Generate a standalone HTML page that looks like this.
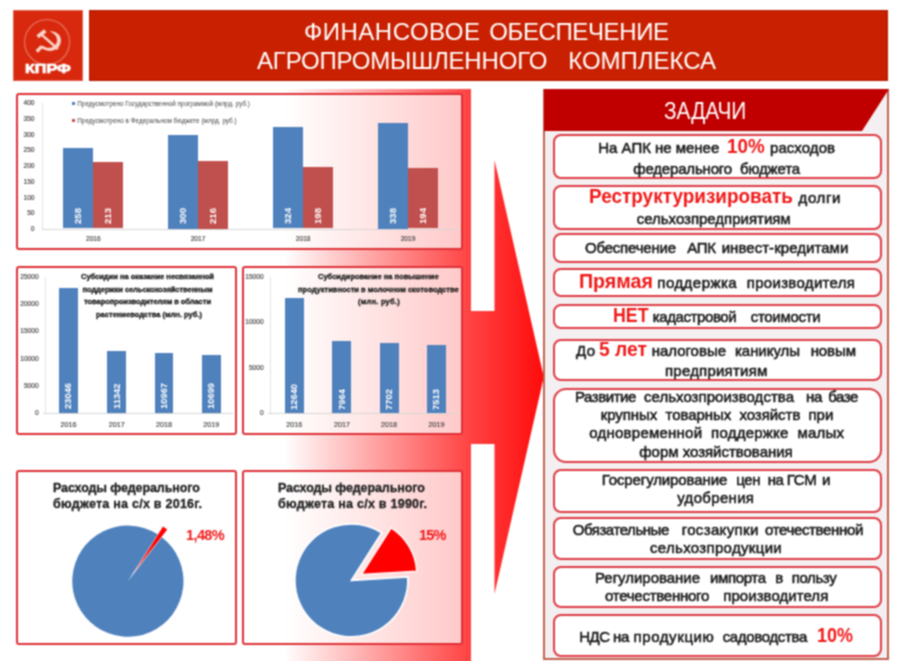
<!DOCTYPE html>
<html lang="ru"><head><meta charset="utf-8"><title>Финансовое обеспечение АПК</title>
<style>
*{box-sizing:border-box}
html,body{margin:0;padding:0}
body{width:900px;height:661px;position:relative;overflow:hidden;background:#fff;font-family:"Liberation Sans",sans-serif}
.abs{position:absolute}
#logo{position:absolute;left:13px;top:10px;width:69.5px;height:71px;background:#d8290e;border:1px solid #e0604a}
#title{position:absolute;left:88.6px;top:9.5px;width:799.6px;height:71.5px;background:#c82000;border:1px solid #ae1c02}
#grad{position:absolute;left:0;top:89px}
.pn{position:absolute;border:2.6px solid #de3036;border-radius:3px;background:rgba(255,255,255,0.70)}
#rp{position:absolute;left:543.3px;top:89px;width:346.2px;height:571.4px;background:#f4f0f1;border:2px solid #c2604f}
#rh{position:absolute;left:544px;top:89px}
.it{position:absolute;left:552.5px;width:329.5px;background:#fff;border:2.3px solid #de3a44}
.s{position:absolute;white-space:pre;display:block}
.r{-webkit-text-stroke:0.55px #1a1a1a}
.k{-webkit-text-stroke:0.7px #fff}
.c{-webkit-text-stroke:0.3px #111}
.p{-webkit-text-stroke:0.3px #222}
.r{font-size:15px;font-weight:400;color:#1a1a1a}
.b{font-size:20px;font-weight:700;color:#f01818}
.t{font-size:24px;font-weight:400;color:#fff}
.h{font-size:24px;font-weight:400;color:#fff}
.k{font-size:13px;font-weight:700;color:#fff}
.c{font-size:7.5px;font-weight:700;color:#222}
.p{font-size:12.5px;font-weight:700;color:#222}
.q{font-size:14.5px;font-weight:700;color:#f01818}
.l{font-size:6.3px;font-weight:400;color:#444}
.bar{position:absolute}
.ax{position:absolute;height:1px;background:#d6d6d6}
.ay{position:absolute;width:1px;background:#e2e2e2}
.sm{position:absolute;white-space:nowrap;line-height:1;-webkit-text-stroke:0.15px #444}
.vl{position:absolute;white-space:nowrap;line-height:1;color:#fff;font-weight:700;transform-origin:0 0;transform:rotate(-90deg) translate(0,-50%)}
.lg{position:absolute;width:3.2px;height:3.2px}
#w{position:absolute;left:0;top:0;width:900px;height:700px;background:#fff;filter:url(#soft)}
</style></head><body><svg width="0" height="0" style="position:absolute"><defs><filter id="soft" x="0" y="0" width="100%" height="100%" color-interpolation-filters="sRGB"><feConvolveMatrix order="3" kernelMatrix="1 2 1 2 4 2 1 2 1" divisor="16" edgeMode="duplicate" preserveAlpha="true"/></filter></defs></svg><div id="w">
<svg id="grad" width="560" height="600" viewBox="0 89 560 600">
<defs><linearGradient id="g" gradientUnits="userSpaceOnUse" x1="0" y1="0" x2="545" y2="0">
<stop offset="0" stop-color="#ffffff"/><stop offset="0.521" stop-color="#ffffff"/><stop offset="0.859" stop-color="#ff4444"/><stop offset="1" stop-color="#ff0a0a"/></linearGradient></defs>
<path d="M0,89 H471 V311 H494.5 V160 L543.8,377 L494.5,594 V444 H471 V689 H-10 V89 Z" fill="url(#g)"/>
</svg>
<div id="logo"></div>
<svg class="abs" style="left:13px;top:10px" width="70" height="71" viewBox="0 0 70 71">
<circle cx="34.1" cy="32.1" r="22.5" fill="none" stroke="#ee8a78" stroke-width="1.3" opacity="0.7"/>
<g fill="#ffe0d6" stroke="none" opacity="0.92" transform="translate(34.5 31.5) scale(0.86) translate(-34.5 -31.5)">
<path d="M37.0,19.6 C42.5,19.6 47.2,21.6 49.3,26.2 C51.2,30.6 49.8,36 45.8,39.4 C41.8,42.8 35.6,43.2 31.0,41.2 C29.4,40.5 28.0,39.5 27.0,38.4 L28.9,36.2 C31.6,38.6 35.2,39.4 38.6,38.6 C42.6,37.6 45.4,34.4 45.6,30.4 C45.8,26.2 43.0,22.2 37.0,19.6 Z"/>
<path d="M26.6,36.0 L29.4,38.6 L23.4,44.6 L20.6,41.8 Z"/>
<path d="M26.6,24.6 L28.6,22.4 L47.6,39.2 L45.6,41.4 Z"/>
<path d="M21.6,24.2 L30.6,17.2 L33.4,20.8 L24.4,27.8 Z"/>
</g>
</svg>
<div id="title"></div>
<div class="pn" style="left:16px;top:92.5px;width:446.5px;height:157.5px"></div>
<div class="pn" style="left:16px;top:266.3px;width:220.5px;height:168.5px"></div>
<div class="pn" style="left:242px;top:266.3px;width:220.5px;height:168.5px"></div>
<div class="pn" style="left:16px;top:469.5px;width:220.5px;height:175.5px"></div>
<div class="pn" style="left:242px;top:469.5px;width:220.5px;height:175.5px"></div>
<div class="sm" style="left:34.5px;top:229.0px;transform:translate(-100%,-50%);font-size:6.6px;color:#444">0</div>
<div class="sm" style="left:34.5px;top:213.2px;transform:translate(-100%,-50%);font-size:6.6px;color:#444">50</div>
<div class="sm" style="left:34.5px;top:197.5px;transform:translate(-100%,-50%);font-size:6.6px;color:#444">100</div>
<div class="sm" style="left:34.5px;top:181.8px;transform:translate(-100%,-50%);font-size:6.6px;color:#444">150</div>
<div class="sm" style="left:34.5px;top:166.0px;transform:translate(-100%,-50%);font-size:6.6px;color:#444">200</div>
<div class="sm" style="left:34.5px;top:150.2px;transform:translate(-100%,-50%);font-size:6.6px;color:#444">250</div>
<div class="sm" style="left:34.5px;top:134.5px;transform:translate(-100%,-50%);font-size:6.6px;color:#444">300</div>
<div class="sm" style="left:34.5px;top:118.8px;transform:translate(-100%,-50%);font-size:6.6px;color:#444">350</div>
<div class="sm" style="left:34.5px;top:103.0px;transform:translate(-100%,-50%);font-size:6.6px;color:#444">400</div>
<div class="ax" style="left:41.5px;top:228.5px;width:417px"></div>
<div class="bar" style="left:63.3px;top:147.7px;width:30.0px;height:80.8px;background:#4f81bd"></div>
<div class="bar" style="left:93.3px;top:161.9px;width:30.0px;height:66.6px;background:#c0504d"></div>
<div class="vl" style="left:78.3px;top:224.1px;font-size:9.6px">258</div>
<div class="vl" style="left:108.3px;top:224.1px;font-size:9.6px">213</div>
<div class="bar" style="left:168.0px;top:134.5px;width:30.0px;height:94.0px;background:#4f81bd"></div>
<div class="bar" style="left:198.0px;top:161.0px;width:30.0px;height:67.5px;background:#c0504d"></div>
<div class="vl" style="left:183.0px;top:224.1px;font-size:9.6px">300</div>
<div class="vl" style="left:213.0px;top:224.1px;font-size:9.6px">216</div>
<div class="bar" style="left:273.2px;top:126.9px;width:30.0px;height:101.6px;background:#4f81bd"></div>
<div class="bar" style="left:303.2px;top:166.6px;width:30.0px;height:61.9px;background:#c0504d"></div>
<div class="vl" style="left:288.2px;top:224.1px;font-size:9.6px">324</div>
<div class="vl" style="left:318.2px;top:224.1px;font-size:9.6px">198</div>
<div class="bar" style="left:378.0px;top:122.5px;width:30.0px;height:106.0px;background:#4f81bd"></div>
<div class="bar" style="left:408.0px;top:167.9px;width:30.0px;height:60.6px;background:#c0504d"></div>
<div class="vl" style="left:393.0px;top:224.1px;font-size:9.6px">338</div>
<div class="vl" style="left:423.0px;top:224.1px;font-size:9.6px">194</div>
<div class="sm" style="left:93.3px;top:239.3px;transform:translate(-50%,-50%);font-size:6.6px;color:#444">2016</div>
<div class="sm" style="left:198.0px;top:239.3px;transform:translate(-50%,-50%);font-size:6.6px;color:#444">2017</div>
<div class="sm" style="left:303.2px;top:239.3px;transform:translate(-50%,-50%);font-size:6.6px;color:#444">2018</div>
<div class="sm" style="left:408.0px;top:239.3px;transform:translate(-50%,-50%);font-size:6.6px;color:#444">2019</div>
<div class="lg" style="left:71.5px;top:101.8px;background:#4f81bd"></div>
<div class="lg" style="left:71.5px;top:119.3px;background:#c0504d"></div>
<div class="ay" style="left:41.5px;top:103px;height:126px"></div>
<div class="ay" style="left:44.5px;top:277px;height:136.5px"></div>
<div class="ay" style="left:270px;top:277px;height:136.5px"></div>
<div class="sm" style="left:38.6px;top:413.0px;transform:translate(-100%,-50%);font-size:6.6px;color:#444">0</div>
<div class="sm" style="left:38.6px;top:385.8px;transform:translate(-100%,-50%);font-size:6.6px;color:#444">5000</div>
<div class="sm" style="left:38.6px;top:358.6px;transform:translate(-100%,-50%);font-size:6.6px;color:#444">10000</div>
<div class="sm" style="left:38.6px;top:331.4px;transform:translate(-100%,-50%);font-size:6.6px;color:#444">15000</div>
<div class="sm" style="left:38.6px;top:304.2px;transform:translate(-100%,-50%);font-size:6.6px;color:#444">20000</div>
<div class="sm" style="left:38.6px;top:277.0px;transform:translate(-100%,-50%);font-size:6.6px;color:#444">25000</div>
<div class="ax" style="left:42.7px;top:413.0px;width:190px"></div>
<div class="bar" style="left:59.0px;top:287.6px;width:18.8px;height:125.4px;background:#4f81bd"></div>
<div class="vl" style="left:68.4px;top:409.2px;font-size:9.4px">23046</div>
<div class="bar" style="left:107.3px;top:351.3px;width:18.8px;height:61.7px;background:#4f81bd"></div>
<div class="vl" style="left:116.7px;top:409.2px;font-size:9.4px">11342</div>
<div class="bar" style="left:154.5px;top:353.3px;width:18.8px;height:59.7px;background:#4f81bd"></div>
<div class="vl" style="left:163.9px;top:409.2px;font-size:9.4px">10967</div>
<div class="bar" style="left:201.8px;top:354.8px;width:18.8px;height:58.2px;background:#4f81bd"></div>
<div class="vl" style="left:211.2px;top:409.2px;font-size:9.4px">10699</div>
<div class="sm" style="left:68.4px;top:425.2px;transform:translate(-50%,-50%);font-size:7.2px;color:#444">2016</div>
<div class="sm" style="left:116.7px;top:425.2px;transform:translate(-50%,-50%);font-size:7.2px;color:#444">2017</div>
<div class="sm" style="left:163.9px;top:425.2px;transform:translate(-50%,-50%);font-size:7.2px;color:#444">2018</div>
<div class="sm" style="left:211.2px;top:425.2px;transform:translate(-50%,-50%);font-size:7.2px;color:#444">2019</div>
<div class="sm" style="left:263.6px;top:413.4px;transform:translate(-100%,-50%);font-size:6.6px;color:#444">0</div>
<div class="sm" style="left:263.6px;top:367.9px;transform:translate(-100%,-50%);font-size:6.6px;color:#444">5000</div>
<div class="sm" style="left:263.6px;top:322.4px;transform:translate(-100%,-50%);font-size:6.6px;color:#444">10000</div>
<div class="sm" style="left:263.6px;top:276.9px;transform:translate(-100%,-50%);font-size:6.6px;color:#444">15000</div>
<div class="ax" style="left:268.2px;top:413.4px;width:190px"></div>
<div class="bar" style="left:284.8px;top:298.4px;width:19.1px;height:115.0px;background:#4f81bd"></div>
<div class="vl" style="left:294.3px;top:409.6px;font-size:9.4px">12640</div>
<div class="bar" style="left:332.4px;top:340.9px;width:19.1px;height:72.5px;background:#4f81bd"></div>
<div class="vl" style="left:341.9px;top:409.6px;font-size:9.4px">7964</div>
<div class="bar" style="left:379.6px;top:343.3px;width:19.1px;height:70.1px;background:#4f81bd"></div>
<div class="vl" style="left:389.1px;top:409.6px;font-size:9.4px">7702</div>
<div class="bar" style="left:426.9px;top:345.0px;width:19.1px;height:68.4px;background:#4f81bd"></div>
<div class="vl" style="left:436.4px;top:409.6px;font-size:9.4px">7513</div>
<div class="sm" style="left:294.3px;top:425.2px;transform:translate(-50%,-50%);font-size:7.2px;color:#444">2016</div>
<div class="sm" style="left:341.9px;top:425.2px;transform:translate(-50%,-50%);font-size:7.2px;color:#444">2017</div>
<div class="sm" style="left:389.1px;top:425.2px;transform:translate(-50%,-50%);font-size:7.2px;color:#444">2018</div>
<div class="sm" style="left:436.4px;top:425.2px;transform:translate(-50%,-50%);font-size:7.2px;color:#444">2019</div>
<svg class="abs" style="left:0;top:460px" width="470" height="201" viewBox="0 460 470 201">
<defs><linearGradient id="sg" gradientUnits="userSpaceOnUse" x1="133" y1="573" x2="165" y2="527">
<stop offset="0" stop-color="#f08080"/><stop offset="0.35" stop-color="#f03030"/><stop offset="0.7" stop-color="#ff0000"/></linearGradient></defs>
<path d="M127.90,581.20 L161.85,537.17 A55.60,55.60 0 1 1 157.61,534.20 Z" fill="#4f81bd"/>
<path d="M133.29,573.50 L163.00,526.50 A55.60,55.60 0 0 1 167.23,529.46 Z" fill="url(#sg)"/>
<path d="M351.40,580.40 L407.79,576.95 A56.50,56.50 0 1 1 381.76,532.75 Z" fill="#4f81bd" stroke="#fff" stroke-width="1.6"/>
<path d="M361.39,574.51 L391.16,527.79 A55.40,55.40 0 0 1 416.69,571.13 Z" fill="#ff0000" stroke="#fff" stroke-width="1.4"/>
</svg>
<div id="rp"></div>
<svg id="rh" width="346" height="43" viewBox="0 0 346 43"><path d="M0,0 H345 L318,42 H0 Z" fill="#c00000"/></svg>
<div class="it" style="top:134.4px;height:44.8px;border-radius:8px"></div>
<div class="it" style="top:185.2px;height:44.8px;border-radius:8px"></div>
<div class="it" style="top:233.2px;height:29.4px;border-radius:8px"></div>
<div class="it" style="top:268.2px;height:29.3px;border-radius:8px"></div>
<div class="it" style="top:304.3px;height:24.9px;border-radius:8px"></div>
<div class="it" style="top:338.8px;height:42.4px;border-radius:8px"></div>
<div class="it" style="top:388.2px;height:75.3px;border-radius:13px"></div>
<div class="it" style="top:468.5px;height:44.0px;border-radius:8px"></div>
<div class="it" style="top:516.8px;height:43.7px;border-radius:8px"></div>
<div class="it" style="top:565.6px;height:42.6px;border-radius:8px"></div>
<div class="it" style="top:613.6px;height:43.1px;border-radius:8px"></div>
<span id="s0" class="s r" style="left:598.30px;top:139.30px;line-height:17px;letter-spacing:-0.021px;">На АПК не менее</span>
<span id="s1" class="s b" style="left:726.70px;top:135.30px;line-height:22px;letter-spacing:0.000px;transform-origin:0 50%;transform:scaleX(0.9393);">10%</span>
<span id="s2" class="s r" style="left:770.00px;top:139.30px;line-height:17px;letter-spacing:0.058px;">расходов</span>
<span id="s3" class="s r" style="left:633.30px;top:159.60px;line-height:17px;letter-spacing:-0.182px;">федерального&nbsp; бюджета</span>
<span id="s4" class="s b" style="left:589.30px;top:184.70px;line-height:22px;letter-spacing:0.000px;transform-origin:0 50%;transform:scaleX(0.9475);">Реструктуризировать</span>
<span id="s5" class="s r" style="left:798.61px;top:188.70px;line-height:17px;letter-spacing:0.600px;">долги</span>
<span id="s6" class="s r" style="left:636.70px;top:209.80px;line-height:17px;letter-spacing:-0.010px;">сельхозпредприятиям</span>
<span id="s7" class="s r" style="left:585.00px;top:239.30px;line-height:17px;letter-spacing:-0.206px;">Обеспечение</span>
<span id="s8" class="s r" style="left:687.30px;top:239.30px;line-height:17px;letter-spacing:-0.330px;">АПК</span>
<span id="s9" class="s r" style="left:721.70px;top:239.30px;line-height:17px;letter-spacing:0.042px;">инвест-кредитами</span>
<span id="s10" class="s b" style="left:579.30px;top:270.30px;line-height:22px;letter-spacing:0.000px;transform-origin:0 50%;transform:scaleX(0.9824);">Прямая</span>
<span id="s11" class="s r" style="left:657.30px;top:274.30px;line-height:17px;letter-spacing:0.476px;">поддержка</span>
<span id="s12" class="s r" style="left:746.70px;top:274.30px;line-height:17px;letter-spacing:0.322px;">производителя</span>
<span id="s13" class="s b" style="left:612.70px;top:303.70px;line-height:22px;letter-spacing:0.000px;transform-origin:0 50%;transform:scaleX(0.8900);">НЕТ</span>
<span id="s14" class="s r" style="left:652.70px;top:307.70px;line-height:17px;letter-spacing:-0.391px;">кадастровой</span>
<span id="s15" class="s r" style="left:750.70px;top:307.70px;line-height:17px;letter-spacing:-0.291px;">стоимости</span>
<span id="s16" class="s r" style="left:576.00px;top:342.00px;line-height:17px;letter-spacing:0.328px;">До</span>
<span id="s17" class="s b" style="left:599.30px;top:338.00px;line-height:22px;letter-spacing:0.000px;transform-origin:0 50%;transform:scaleX(0.9642);">5 лет</span>
<span id="s18" class="s r" style="left:651.70px;top:342.00px;line-height:17px;letter-spacing:-0.021px;">налоговые</span>
<span id="s19" class="s r" style="left:735.00px;top:342.00px;line-height:17px;letter-spacing:-0.049px;">каникулы</span>
<span id="s20" class="s r" style="left:810.70px;top:342.00px;line-height:17px;letter-spacing:-0.101px;">новым</span>
<span id="s21" class="s r" style="left:665.00px;top:362.00px;line-height:17px;letter-spacing:0.219px;">предприятиям</span>
<span id="s22" class="s r" style="left:575.00px;top:387.70px;line-height:17px;letter-spacing:-0.443px;">Развитие</span>
<span id="s23" class="s r" style="left:644.00px;top:387.70px;line-height:17px;letter-spacing:0.031px;">сельхозпроизводства</span>
<span id="s24" class="s r" style="left:806.10px;top:387.70px;line-height:17px;letter-spacing:-0.450px;">на</span>
<span id="s25" class="s r" style="left:828.23px;top:387.70px;line-height:17px;letter-spacing:-0.450px;">базе</span>
<span id="s26" class="s r" style="left:600.70px;top:406.20px;line-height:17px;letter-spacing:-0.048px;">крупных&nbsp; товарных&nbsp; хозяйств&nbsp; при</span>
<span id="s27" class="s r" style="left:589.30px;top:424.30px;line-height:17px;letter-spacing:0.231px;">одновременной&nbsp; поддержке&nbsp; малых</span>
<span id="s28" class="s r" style="left:639.30px;top:442.70px;line-height:17px;letter-spacing:-0.025px;">форм хозяйствования</span>
<span id="s29" class="s r" style="left:601.70px;top:470.90px;line-height:17px;letter-spacing:-0.111px;">Госрегулирование</span>
<span id="s30" class="s r" style="left:736.27px;top:470.90px;line-height:17px;letter-spacing:-0.450px;">цен</span>
<span id="s31" class="s r" style="left:767.70px;top:470.90px;line-height:17px;letter-spacing:-0.450px;">на</span>
<span id="s32" class="s r" style="left:786.70px;top:470.90px;line-height:17px;letter-spacing:-0.305px;">ГСМ</span>
<span id="s33" class="s r" style="left:822.10px;top:470.90px;line-height:17px;letter-spacing:0.000px;">и</span>
<span id="s34" class="s r" style="left:677.30px;top:489.20px;line-height:17px;letter-spacing:0.316px;">удобрения</span>
<span id="s35" class="s r" style="left:572.70px;top:520.90px;line-height:17px;letter-spacing:-0.443px;">Обязательные</span>
<span id="s36" class="s r" style="left:681.70px;top:520.90px;line-height:17px;letter-spacing:0.344px;">госзакупки</span>
<span id="s37" class="s r" style="left:765.00px;top:520.90px;line-height:17px;letter-spacing:-0.353px;">отечественной</span>
<span id="s38" class="s r" style="left:650.00px;top:539.30px;line-height:17px;letter-spacing:0.318px;">сельхозпродукции</span>
<span id="s39" class="s r" style="left:595.00px;top:568.80px;line-height:17px;letter-spacing:-0.025px;">Регулирование</span>
<span id="s40" class="s r" style="left:710.00px;top:568.80px;line-height:17px;letter-spacing:-0.370px;">импорта</span>
<span id="s41" class="s r" style="left:775.37px;top:568.80px;line-height:17px;letter-spacing:0.000px;">в</span>
<span id="s42" class="s r" style="left:791.70px;top:568.80px;line-height:17px;letter-spacing:-0.384px;">пользу</span>
<span id="s43" class="s r" style="left:605.00px;top:587.20px;line-height:17px;letter-spacing:-0.256px;">отечественного</span>
<span id="s44" class="s r" style="left:723.30px;top:587.20px;line-height:17px;letter-spacing:0.047px;">производителя</span>
<span id="s45" class="s r" style="left:579.19px;top:627.80px;line-height:17px;letter-spacing:-0.450px;">НДС</span>
<span id="s46" class="s r" style="left:613.05px;top:627.80px;line-height:17px;letter-spacing:-0.450px;">на</span>
<span id="s47" class="s r" style="left:633.49px;top:627.80px;line-height:17px;letter-spacing:0.600px;">продукцию</span>
<span id="s48" class="s r" style="left:722.70px;top:627.80px;line-height:17px;letter-spacing:-0.342px;">садоводства</span>
<span id="s49" class="s b" style="left:817.30px;top:623.90px;line-height:22px;letter-spacing:0.000px;transform-origin:0 50%;transform:scaleX(0.8993);">10%</span>
<span id="s50" class="s t" style="left:304.00px;top:17.70px;line-height:27px;letter-spacing:0.497px;">ФИНАНСОВОЕ</span>
<span id="s51" class="s t" style="left:489.30px;top:17.70px;line-height:27px;letter-spacing:-0.391px;">ОБЕСПЕЧЕНИЕ</span>
<span id="s52" class="s t" style="left:257.00px;top:46.70px;line-height:27px;letter-spacing:-0.181px;">АГРОПРОМЫШЛЕННОГО</span>
<span id="s53" class="s t" style="left:568.30px;top:46.70px;line-height:27px;letter-spacing:-0.026px;">КОМПЛЕКСА</span>
<span id="s54" class="s h" style="left:664.00px;top:96.80px;line-height:27px;letter-spacing:0.000px;transform-origin:0 50%;transform:scaleX(0.8669);">ЗАДАЧИ</span>
<span id="s55" class="s k" style="left:25.30px;top:61.20px;line-height:15px;letter-spacing:0.000px;transform-origin:0 50%;transform:scaleX(1.2420);">КПРФ</span>
<span id="s56" class="s c" style="left:81.00px;top:272.00px;line-height:9px;letter-spacing:-0.009px;">Субсидии на оказание несвязанной</span>
<span id="s57" class="s c" style="left:82.50px;top:284.50px;line-height:9px;letter-spacing:-0.056px;">поддержки сельскохозяйственным</span>
<span id="s58" class="s c" style="left:84.00px;top:297.00px;line-height:9px;letter-spacing:-0.039px;">товаропроизводителям в области</span>
<span id="s59" class="s c" style="left:96.00px;top:309.50px;line-height:9px;letter-spacing:0.010px;">растениеводства (млн. руб.)</span>
<span id="s60" class="s c" style="left:318.00px;top:272.00px;line-height:9px;letter-spacing:0.016px;">Субсидирование на повышение</span>
<span id="s61" class="s c" style="left:298.00px;top:284.50px;line-height:9px;letter-spacing:0.019px;">продуктивности в молочном скотоводстве</span>
<span id="s62" class="s c" style="left:358.00px;top:297.00px;line-height:9px;letter-spacing:0.232px;">(млн. руб.)</span>
<span id="s63" class="s p" style="left:53.00px;top:481.00px;line-height:14px;letter-spacing:-0.105px;">Расходы федерального</span>
<span id="s64" class="s p" style="left:53.00px;top:496.90px;line-height:14px;letter-spacing:0.254px;">бюджета на с/х в 2016г.</span>
<span id="s65" class="s q" style="left:186.00px;top:527.30px;line-height:16px;letter-spacing:-0.606px;">1,48%</span>
<span id="s66" class="s p" style="left:278.00px;top:481.00px;line-height:14px;letter-spacing:-0.105px;">Расходы федерального</span>
<span id="s67" class="s p" style="left:278.00px;top:496.90px;line-height:14px;letter-spacing:0.254px;">бюджета на с/х в 1990г.</span>
<span id="s68" class="s q" style="left:419.00px;top:527.00px;line-height:16px;letter-spacing:-0.866px;">15%</span>
<span id="s69" class="s l" style="left:77.30px;top:99.50px;line-height:7px;letter-spacing:0.027px;">Предусмотрено Государственной программой (млрд. руб.)</span>
<span id="s70" class="s l" style="left:77.30px;top:117.00px;line-height:7px;letter-spacing:0.046px;">Предусмотрено в Федеральном бюджете (млрд. руб.)</span>
</div></body></html>
